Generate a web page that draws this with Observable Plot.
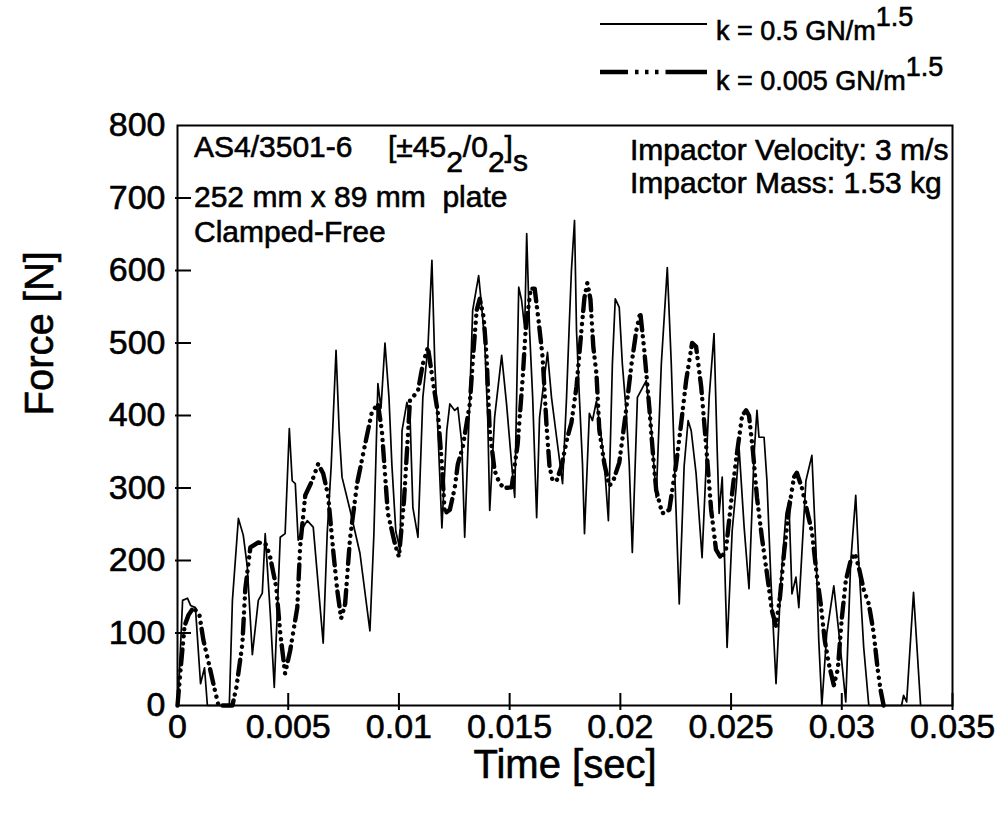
<!DOCTYPE html>
<html>
<head>
<meta charset="utf-8">
<script src="https://cdn.jsdelivr.net/npm/d3@7"></script>
<script src="https://cdn.jsdelivr.net/npm/@observablehq/plot@0.6"></script>
<style>
  body { margin: 0; background: #fff; }
  #wrap { width: 1005px; font-family: "Liberation Sans", Arial, Helvetica, sans-serif; }
  #wrap svg text { stroke: black; stroke-width: 0.6px; }
</style>
</head>
<body>
<div id="wrap"></div>
<script>
// ---- data ----
const xTicks = [0, 0.005, 0.01, 0.015, 0.02, 0.025, 0.03, 0.035];
const xTickLabels = ["0", "0.005", "0.01", "0.015", "0.02", "0.025", "0.03", "0.035"];
const yTicks = [0, 100, 200, 300, 400, 500, 600, 700, 800];

// k = 0.5 GN/m^1.5 (thin solid)
const stiffTime = [0, 0.00007, 0.00023, 0.00045, 0.00059, 0.00081, 0.00104, 0.00122, 0.00135, 0.00234,
  0.00248, 0.00275, 0.00297, 0.00315, 0.00338, 0.00365, 0.00383, 0.00396, 0.00419, 0.00437,
  0.00464, 0.00486, 0.00505, 0.00518, 0.00532, 0.00545, 0.00568, 0.00586, 0.00613, 0.00631,
  0.00658, 0.00676, 0.00694, 0.00716, 0.0073, 0.00743, 0.00779, 0.00824, 0.00869, 0.00887,
  0.00905, 0.00919, 0.00937, 0.00955, 0.00968, 0.00986, 0.01005, 0.01014, 0.01036, 0.0105,
  0.01063, 0.01086, 0.01108, 0.01131, 0.01149, 0.01162, 0.01176, 0.01194, 0.01216, 0.0123,
  0.01252, 0.01266, 0.01284, 0.01297, 0.0132, 0.01333, 0.0136, 0.01374, 0.01387, 0.01401,
  0.0141, 0.01432, 0.01464, 0.01486, 0.01509, 0.01523, 0.01541, 0.01554, 0.01568, 0.01577,
  0.0159, 0.01604, 0.01622, 0.01635, 0.01671, 0.01689, 0.01712, 0.01739, 0.01757, 0.0177,
  0.01779, 0.01793, 0.01802, 0.01815, 0.01829, 0.01838, 0.0186, 0.01874, 0.01892, 0.0191,
  0.01928, 0.01946, 0.01964, 0.01977, 0.01995, 0.02009, 0.02027, 0.0204, 0.02054, 0.02077,
  0.02117, 0.0214, 0.02162, 0.02185, 0.02212, 0.0223, 0.02248, 0.02266, 0.02288, 0.02306,
  0.0232, 0.02342, 0.02369, 0.02401, 0.02423, 0.02437, 0.02446, 0.0246, 0.02482, 0.02505,
  0.02523, 0.02536, 0.02559, 0.02581, 0.02604, 0.02617, 0.02626, 0.02649, 0.02662, 0.0268,
  0.02703, 0.02725, 0.02748, 0.02761, 0.02775, 0.02793, 0.02806, 0.02838, 0.02865, 0.02883,
  0.02896, 0.0291, 0.02932, 0.02964, 0.02986, 0.03018, 0.0304, 0.03063, 0.03077, 0.03099,
  0.03122, 0.0327, 0.03279, 0.03293, 0.03324, 0.03356];
const stiffForce = [0, 35, 145, 148, 138, 135, 30, 52, 0, 0,
  145, 258, 235, 192, 70, 145, 155, 237, 127, 25,
  232, 237, 382, 310, 306, 228, 246, 255, 246, 182,
  86, 237, 330, 490, 380, 315, 270, 210, 103, 237,
  444, 410, 500, 425, 333, 240, 215, 379, 418, 400,
  273, 232, 425, 494, 614, 471, 379, 245, 379, 416,
  407, 411, 361, 232, 425, 545, 593, 549, 503, 397,
  269, 397, 483, 416, 333, 287, 577, 559, 520, 651,
  517, 425, 259, 397, 487, 425, 370, 306, 425, 531,
  600, 669, 517, 425, 333, 237, 403, 393, 420, 380,
  333, 255, 471, 561, 549, 471, 403, 333, 211, 425,
  448, 380, 287, 471, 604, 471, 300, 140, 330, 393,
  379, 320, 204, 425, 513, 356, 265, 315, 80, 241,
  301, 356, 246, 161, 347, 407, 370, 370, 310, 172,
  30, 172, 265, 283, 154, 177, 135, 310, 345, 217,
  90, 0, 99, 165, 103, 5, 196, 290, 196, 80,
  0, 0, 14, 5, 156, 0];

// k = 0.005 GN/m^1.5 (thick dash-dot)
const softTime = [0, 0.00014, 0.00032, 0.0005, 0.00072, 0.00099, 0.00117, 0.0014, 0.00162, 0.00185,
  0.00248, 0.00266, 0.00293, 0.00306, 0.00329, 0.00365, 0.00401, 0.00419, 0.00446, 0.00464,
  0.00486, 0.00509, 0.00541, 0.00554, 0.00577, 0.00608, 0.00635, 0.00658, 0.0068, 0.00703,
  0.00721, 0.00739, 0.00757, 0.00779, 0.00811, 0.00847, 0.00878, 0.00905, 0.00923, 0.0095,
  0.00982, 0.01, 0.01023, 0.0105, 0.01086, 0.01108, 0.01131, 0.01153, 0.01176, 0.01194,
  0.01207, 0.0123, 0.01252, 0.01266, 0.01288, 0.0132, 0.01338, 0.01351, 0.01365, 0.01383,
  0.01396, 0.0141, 0.01432, 0.01455, 0.01477, 0.01509, 0.01536, 0.01559, 0.01572, 0.01595,
  0.01613, 0.01631, 0.01649, 0.01667, 0.0168, 0.01694, 0.01712, 0.01734, 0.01761, 0.01779,
  0.01802, 0.01824, 0.01838, 0.01851, 0.01865, 0.01878, 0.01892, 0.01905, 0.01928, 0.0195,
  0.01968, 0.01995, 0.02023, 0.0205, 0.02072, 0.0209, 0.02108, 0.02131, 0.02149, 0.02162,
  0.02189, 0.02221, 0.02252, 0.02275, 0.02297, 0.02324, 0.02342, 0.02365, 0.02387, 0.0241,
  0.02432, 0.02455, 0.02477, 0.025, 0.02523, 0.0255, 0.02568, 0.02581, 0.02599, 0.02617,
  0.0264, 0.02662, 0.02685, 0.02703, 0.02721, 0.02739, 0.02761, 0.02784, 0.02797, 0.0282,
  0.02842, 0.02865, 0.02887, 0.02905, 0.02923, 0.02941, 0.02964, 0.02982, 0.03, 0.03018,
  0.0304, 0.03059, 0.03077, 0.03099, 0.03122, 0.03144, 0.03162, 0.03176, 0.03189];
const softForce = [0, 50, 110, 125, 135, 125, 90, 60, 30, 0,
  0, 25, 85, 160, 218, 225, 222, 204, 163, 100,
  44, 76, 135, 220, 290, 310, 333, 320, 290, 214,
  160, 120, 140, 230, 306, 360, 405, 416, 379, 265,
  223, 205, 283, 421, 434, 471, 494, 448, 403, 333,
  265, 270, 300, 333, 356, 416, 494, 545, 561, 535,
  480, 379, 324, 306, 300, 301, 360, 452, 517, 575,
  575, 530, 480, 384, 330, 310, 310, 330, 370, 390,
  440, 517, 563, 583, 560, 494, 458, 380, 333, 303,
  310, 335, 400, 470, 517, 542, 490, 410, 340, 297,
  265, 270, 333, 390, 448, 500, 495, 440, 360, 270,
  215, 203, 215, 280, 340, 400, 407, 400, 350, 287,
  230, 182, 130, 110, 150, 210, 270, 315, 321, 300,
  270, 240, 180, 140, 90, 58, 28, 50, 120, 172,
  200, 210, 190, 160, 140, 100, 50, 20, 0];

const stiffData = stiffTime.map((t, i) => ({t, f: stiffForce[i]}));
const softData = softTime.map((t, i) => ({t, f: softForce[i]}));
const xLabel = new Map(xTicks.map((d, i) => [d, xTickLabels[i]]));

const FONT = '"Liberation Sans", Arial, Helvetica, sans-serif';
const wrap = document.getElementById("wrap");

// ---- legend (above the plot) ----
const leg = d3.create("svg").attr("width", 1005).attr("height", 100)
  .style("display", "block").style("font-family", FONT).attr("text-anchor", "start");
leg.append("line").attr("x1", 600).attr("x2", 707).attr("y1", 24).attr("y2", 24)
  .attr("stroke", "black").attr("stroke-width", 1.8);
leg.append("line").attr("x1", 600).attr("x2", 707).attr("y1", 72).attr("y2", 72)
  .attr("stroke", "black").attr("stroke-width", 4.5).attr("stroke-linecap", "butt")
  .attr("stroke-dasharray", "28 7 3.5 6.5 3.5 6.5 3.5 7 45");
const l1 = leg.append("text").attr("x", 716).attr("y", 40).attr("font-size", 27);
l1.append("tspan").text("k = 0.5 GN/m");
l1.append("tspan").attr("dy", -14).text("1.5");
const l2 = leg.append("text").attr("x", 716).attr("y", 90).attr("font-size", 27);
l2.append("tspan").text("k = 0.005 GN/m");
l2.append("tspan").attr("dy", -14).text("1.5");
wrap.appendChild(leg.node());

// ---- plot ----
const chart = Plot.plot({
  width: 1005,
  height: 728,
  marginLeft: 177,
  marginRight: 53,
  marginTop: 25,
  marginBottom: 123,
  x: {domain: [0, 0.035]},
  y: {domain: [0, 800]},
  style: {fontFamily: FONT, fontSize: "34px", color: "black", background: "white", overflow: "visible"},
  marks: [
    Plot.ruleY(yTicks.slice(1, -1), {y: d => d, insetLeft: -2, insetRight: 761, stroke: "black", strokeWidth: 2}),
    Plot.ruleX(xTicks.slice(1), {x: d => d, insetTop: 568, insetBottom: -5, stroke: "black", strokeWidth: 2}),
    Plot.axisX({ticks: xTicks, tickSize: 0, tickPadding: 8, tickFormat: d => xLabel.get(d), label: null, fill: "black"}),
    Plot.axisY({ticks: yTicks, tickSize: 0, tickPadding: 12, tickFormat: d => String(d), label: null, fill: "black"}),
    Plot.line(softData, {x: "t", y: "f", stroke: "black", strokeWidth: 4.4, strokeLinecap: "round",
      strokeLinejoin: "round", strokeDasharray: "15 6 0.1 7 0.1 7 0.1 6"}),
    Plot.line(stiffData, {x: "t", y: "f", stroke: "black", strokeWidth: 1.7, strokeLinejoin: "round"}),
    Plot.frame({stroke: "black", strokeWidth: 2}),
    Plot.text(["Force [N]"], {text: d => d, frameAnchor: "left", dx: -137, rotate: -90, fontSize: 40, fill: "black"}),
    Plot.text(["Time [sec]"], {text: d => d, frameAnchor: "bottom", dy: 72, fontSize: 40, fill: "black"})
  ]
});
wrap.appendChild(chart);

// ---- annotations inside the frame ----
const svg = d3.select(chart);
const ann = svg.append("g").attr("font-family", FONT).attr("font-size", 30)
  .attr("fill", "black").attr("text-anchor", "start");
const t1 = ann.append("text").attr("x", 194).attr("y", 57).style("white-space", "pre");
t1.append("tspan").text("AS4/3501-6");
t1.append("tspan").attr("x", 388).text("[±45");
t1.append("tspan").attr("dy", 15).text("2");
t1.append("tspan").attr("dy", -15).text("/0");
t1.append("tspan").attr("dy", 15).text("2");
t1.append("tspan").attr("dy", -15).text("]");
t1.append("tspan").attr("dy", 14).text("s");
ann.append("text").attr("x", 194).attr("y", 107).style("white-space", "pre").text("252 mm x 89 mm  plate");
ann.append("text").attr("x", 194).attr("y", 142).text("Clamped-Free");
ann.append("text").attr("x", 630).attr("y", 60).text("Impactor Velocity: 3 m/s");
ann.append("text").attr("x", 630).attr("y", 93).text("Impactor Mass: 1.53 kg");
</script>
</body>
</html>
